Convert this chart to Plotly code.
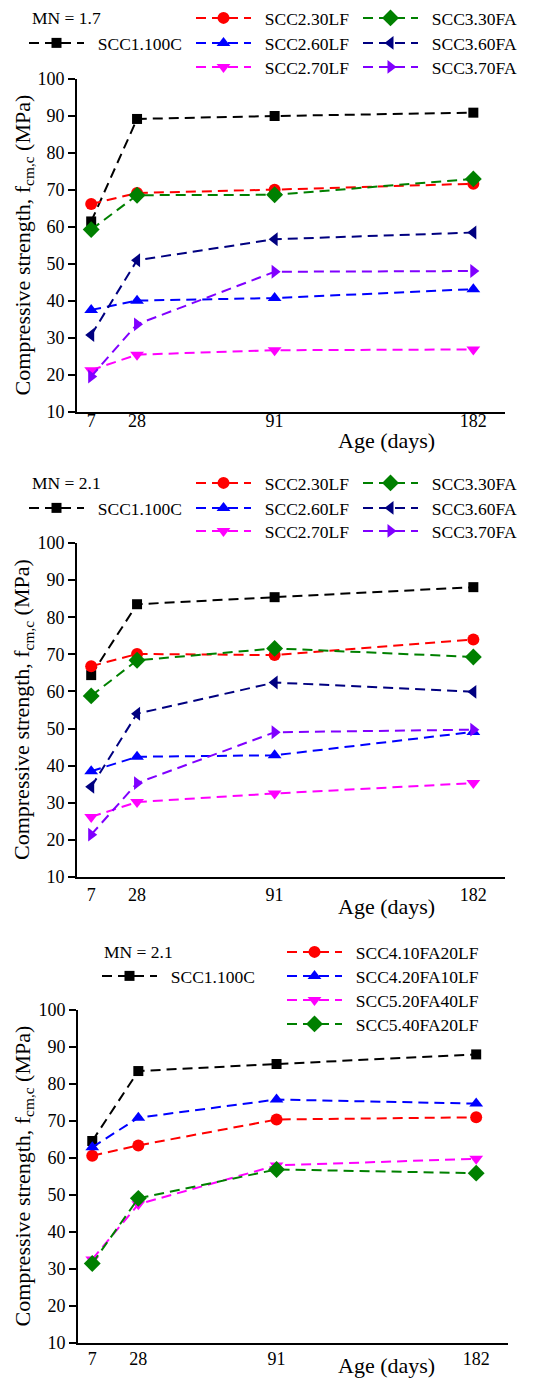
import plotly.graph_objects as go

# Curing ages (days)
ages = [7, 28, 91, 182]
age_ticks = ["7", "28", "91", "182"]

# Panel 1: MN = 1.7
p1_scc1_100c = [61.5, 89.2, 90.0, 90.9]
p1_scc2_30lf = [66.2, 69.2, 70.1, 71.7]
p1_scc2_60lf = [37.6, 40.1, 40.8, 43.2]
p1_scc2_70lf = [21.3, 25.5, 26.7, 26.9]
p1_scc3_30fa = [59.3, 68.6, 68.7, 73.0]
p1_scc3_60fa = [30.8, 51.0, 56.7, 58.5]
p1_scc3_70fa = [19.6, 33.7, 47.9, 48.1]

# Panel 2: MN = 2.1
p2_scc1_100c = [64.4, 83.5, 85.4, 88.1]
p2_scc2_30lf = [66.8, 70.1, 69.8, 74.0]
p2_scc2_60lf = [38.5, 42.4, 42.8, 49.1]
p2_scc2_70lf = [26.2, 30.2, 32.5, 35.3]
p2_scc3_30fa = [58.8, 68.4, 71.6, 69.3]
p2_scc3_60fa = [34.3, 54.0, 62.4, 59.9]
p2_scc3_70fa = [21.4, 35.3, 49.0, 49.7]

# Panel 3: MN = 2.1, ternary mixes
p3_scc1_100c = [64.6, 83.5, 85.4, 88.0]
p3_scc4_10fa20lf = [60.6, 63.4, 70.4, 71.0]
p3_scc4_20fa10lf = [62.9, 70.9, 75.8, 74.7]
p3_scc5_20fa40lf = [32.6, 47.5, 58.0, 59.8]
p3_scc5_40fa20lf = [31.5, 49.1, 56.9, 55.9]

FONT = "Liberation Serif, serif"
W, H = 551, 1381
ML, MR, MT, MB = 76, 43, 78, 38
PW, PH = W - ML - MR, H - MT - MB

STYLE = {
    "black": ("#000000", "square", 10),
    "red": ("#ff0000", "circle", 12),
    "blue": ("#0000ff", "triangle-up", 12),
    "magenta": ("#ff00ff", "triangle-down", 12),
    "green": ("#008000", "diamond", 13),
    "navy": ("#000080", "triangle-left", 12),
    "purple": ("#8000ff", "triangle-right", 12),
}


def px_x(p):
    return (p - ML) / PW


def px_y(p):
    return 1 - (p - MT) / PH


fig = go.Figure()
legends = {}


def add_series(name, values, style, axis_idx, key_x, key_y):
    """Add one dashed series; its key sits at pixel (key_x, key_y) of the page."""
    color, symbol, size = STYLE[style]
    sfx = "" if axis_idx == 1 else str(axis_idx)
    n = len(legends) + 1
    lid = "legend" if n == 1 else "legend%d" % n
    legends[lid] = dict(
        x=px_x(key_x - 4), y=px_y(key_y), xanchor="left", yanchor="middle",
        bgcolor="rgba(0,0,0,0)", borderwidth=0,
        font=dict(family=FONT, size=17.5, color="#000"),
        itemwidth=55,
    )
    fig.add_trace(go.Scatter(
        x=ages, y=values, name="\u00a0\u00a0" + name, mode="lines+markers",
        line=dict(color=color, width=2, dash="10px,6px"),
        marker=dict(color=color, symbol=symbol, size=size),
        xaxis="x" + sfx, yaxis="y" + sfx, legend=lid, showlegend=True,
    ))


# Panel 1 (MN = 1.7)
add_series("SCC1.100C", p1_scc1_100c, "black", 1, 28, 43)
add_series("SCC2.30LF", p1_scc2_30lf, "red", 1, 195, 18)
add_series("SCC2.60LF", p1_scc2_60lf, "blue", 1, 195, 43)
add_series("SCC2.70LF", p1_scc2_70lf, "magenta", 1, 195, 67)
add_series("SCC3.30FA", p1_scc3_30fa, "green", 1, 362, 18)
add_series("SCC3.60FA", p1_scc3_60fa, "navy", 1, 362, 43)
add_series("SCC3.70FA", p1_scc3_70fa, "purple", 1, 362, 67)

# Panel 2 (MN = 2.1)
add_series("SCC1.100C", p2_scc1_100c, "black", 2, 28, 508)
add_series("SCC2.30LF", p2_scc2_30lf, "red", 2, 195, 483)
add_series("SCC2.60LF", p2_scc2_60lf, "blue", 2, 195, 508)
add_series("SCC2.70LF", p2_scc2_70lf, "magenta", 2, 195, 531)
add_series("SCC3.30FA", p2_scc3_30fa, "green", 2, 362, 483)
add_series("SCC3.60FA", p2_scc3_60fa, "navy", 2, 362, 508)
add_series("SCC3.70FA", p2_scc3_70fa, "purple", 2, 362, 531)

# Panel 3 (MN = 2.1, ternary mixes)
add_series("SCC1.100C", p3_scc1_100c, "black", 3, 101, 976)
add_series("SCC4.10FA20LF", p3_scc4_10fa20lf, "red", 3, 286, 952)
add_series("SCC4.20FA10LF", p3_scc4_20fa10lf, "blue", 3, 286, 976)
add_series("SCC5.20FA40LF", p3_scc5_20fa40lf, "magenta", 3, 286, 1000)
add_series("SCC5.40FA20LF", p3_scc5_40fa20lf, "green", 3, 286, 1024)

# Pixel extents of each panel's axes
panels = [
    dict(x0=77, x1=505, top=79, bottom=412, standoff=-9),
    dict(x0=77, x1=505, top=543, bottom=877, standoff=0),
    dict(x0=78, x1=508, top=1010, bottom=1343, standoff=-2),
]

axes = {}
for i, p in enumerate(panels, start=1):
    sfx = "" if i == 1 else str(i)
    axes["xaxis" + sfx] = dict(
        domain=[max(0, px_x(p["x0"])), min(1, px_x(p["x1"]))],
        anchor="y" + sfx, range=[0.5, 196.5],
        tickmode="array", tickvals=ages, ticktext=age_ticks,
        ticks="", showgrid=False, zeroline=False,
        showline=True, linecolor="#000", linewidth=2,
        tickfont=dict(family=FONT, size=18, color="#000"),
        ticklabelstandoff=p["standoff"],
    )
    axes["yaxis" + sfx] = dict(
        domain=[max(0, px_y(p["bottom"])), min(1, px_y(p["top"]))],
        anchor="x" + sfx, range=[10, 100], dtick=10, tick0=10,
        ticks="outside", ticklen=7, tickwidth=1.5, tickcolor="#000",
        showgrid=False, zeroline=False,
        showline=True, linecolor="#000", linewidth=2,
        tickfont=dict(family=FONT, size=18, color="#000"),
    )

annotations = []
ytitle = "Compressive strength, f<sub>cm,c</sub> (MPa)"
age_y = [440, 906, 1366]
for i, p in enumerate(panels):
    annotations.append(dict(
        text=ytitle, textangle=-90, xref="paper", x=px_x(23), xanchor="center",
        yref="paper", y=(px_y(p["top"]) + px_y(p["bottom"])) / 2, yanchor="middle",
        showarrow=False, font=dict(family=FONT, size=22, color="#000"),
    ))
    annotations.append(dict(
        text="Age (days)", xref="paper", x=px_x(386), xanchor="center",
        yref="paper", y=px_y(age_y[i]), yanchor="middle",
        showarrow=False, font=dict(family=FONT, size=22, color="#000"),
    ))

# "MN" labels above each legend block
for text, xp, yp in [("MN = 1.7", 30, 18), ("MN = 2.1", 30, 483), ("MN = 2.1", 102, 952)]:
    annotations.append(dict(
        text=text, xref="paper", x=px_x(xp), xanchor="left",
        yref="paper", y=px_y(yp), yanchor="middle", showarrow=False,
        font=dict(family=FONT, size=17.5, color="#000"),
    ))

fig.update_layout(
    width=W, height=H, showlegend=True,
    margin=dict(l=ML, r=MR, t=MT, b=MB, autoexpand=False),
    paper_bgcolor="#fff", plot_bgcolor="#fff",
    font=dict(family=FONT, color="#000"),
    annotations=annotations,
    **axes, **legends,
)

fig.write_html("out.html")
